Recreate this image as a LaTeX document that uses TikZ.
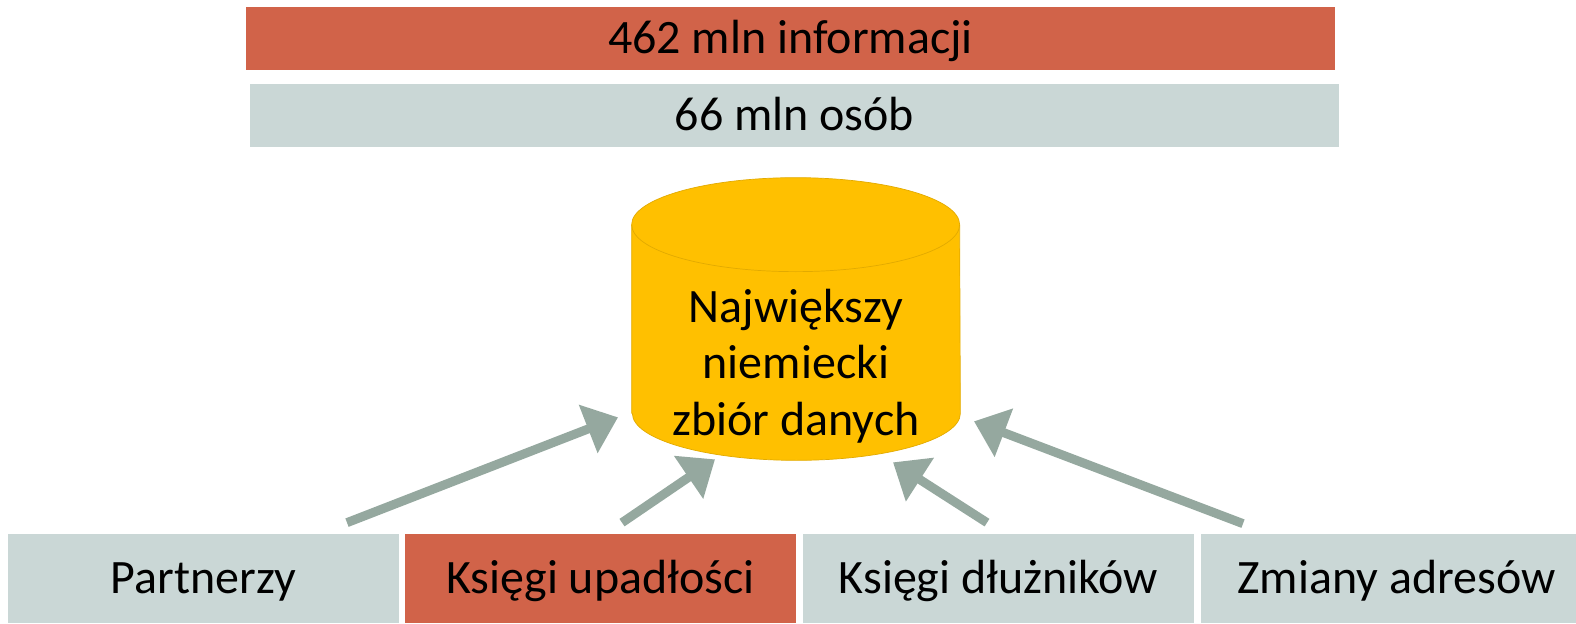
\documentclass[tikz,border=0pt]{standalone}
\usepackage{fontspec}
\setmainfont{Carlito}
\usetikzlibrary{arrows.meta,backgrounds}

\definecolor{barred}{HTML}{D16349}
\definecolor{bargray}{HTML}{CAD7D6}
\definecolor{dbyellow}{HTML}{FFC000}
\definecolor{dbedge}{HTML}{E2AA00}
\definecolor{arrowgray}{HTML}{95A89F}

\tikzset{
	bar/.style={rectangle,inner sep=0pt,minimum width=21.78cm,minimum height=1.26cm,
		text height=0.6cm,text depth=0cm,font=\fontsize{27.3}{34}\selectfont},
	source/.style={rectangle,inner sep=0pt,minimum width=7.82cm,minimum height=1.78cm,
		text height=0.6cm,text depth=0cm,font=\fontsize{27.3}{34}\selectfont},
	store/.style={rectangle,inner sep=0pt,minimum width=6.56cm,minimum height=3.76cm,
		align=center,font=\fontsize{27.3}{32.3}\selectfont},
	storefill/.style={fill=dbyellow,draw=dbedge,thin},
	feed/.style={draw=arrowgray,line width=0.18cm,-{Triangle[length=0.64cm,width=1.0cm]}}
}

\begin{document}
\begin{tikzpicture}[ell/.style={x radius=3.28cm,y radius=0.94cm}]
%Rahmen
\useasboundingbox (0,0) rectangle (31.52,12.46);
%\draw[step=1cm,very thin,black!20] (0,0) grid(31.52,12.46);
\node[bar,fill=barred] (info) at (15.81,11.69) {462 mln informacji};
\node[bar,fill=bargray] (people) at (15.89,10.15) {66 mln osób};
\node[store] (db) at (15.92,5.14) {Największy\\niemiecki\\zbiór danych};
\begin{scope}[on background layer]
\draw[storefill] ([yshift=0.94cm]db.south west)--([yshift=0.94cm]db.north west)
	arc[start angle=180,end angle=0,ell]--([yshift=0.94cm]db.south east)
	arc[start angle=0,end angle=-180,ell]--cycle;
\draw[dbedge,thin] ([yshift=0.94cm]db.north west) arc[start angle=180,end angle=360,ell];
\end{scope}
\node[source,fill=bargray] (partner) at (4.07,0.89) {Partnerzy};
\node[source,fill=barred] (bankrupt) at (12.01,0.89) {Księgi upadłości};
\node[source,fill=bargray] (debtor) at (19.97,0.89) {Księgi dłużników};
\node[source,fill=bargray] (address) at (27.93,0.89) {Zmiany adresów};
\draw[feed] ([shift={(2.87,0.22)}]partner.north)--([shift={(-3.56,0.86)}]db.south);
\draw[feed] ([shift={(0.43,0.22)}]bankrupt.north)--([shift={(-1.62,0.02)}]db.south);
\draw[feed] ([shift={(-0.23,0.22)}]debtor.north)--([shift={(1.94,-0.04)}]db.south);
\draw[feed] ([shift={(-3.07,0.20)}]address.north)--([shift={(3.56,0.78)}]db.south);
\end{tikzpicture}
\end{document}
